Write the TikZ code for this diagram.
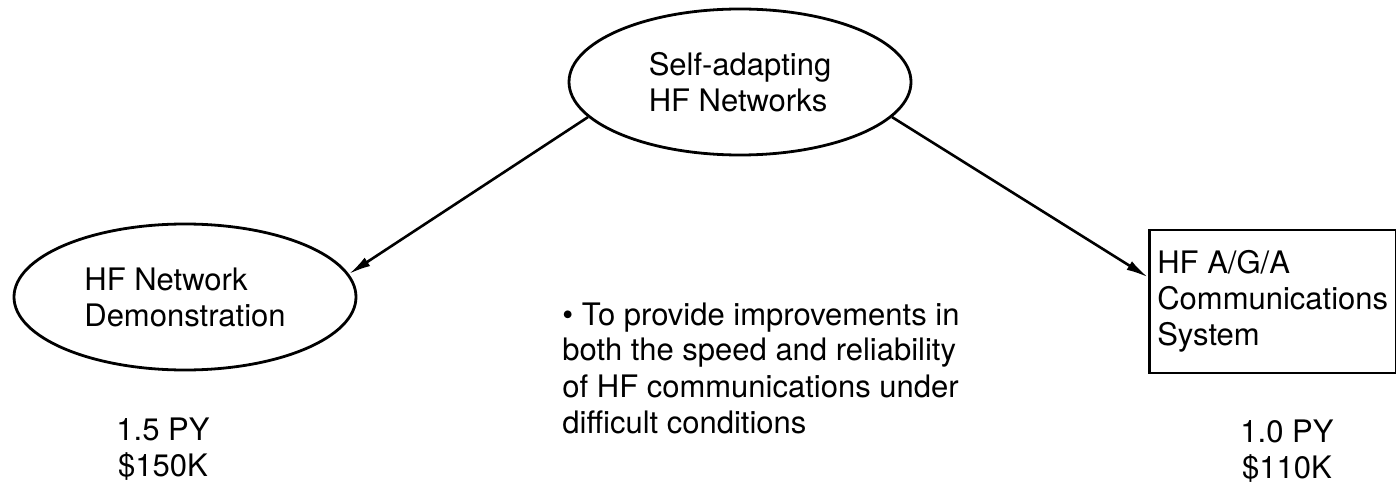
\documentclass[tikz,border=0pt]{standalone}
\usepackage{fontspec}
\setmainfont{TeX Gyre Heros}
\usetikzlibrary{shapes.geometric,arrows.meta}
\begin{document}
\begin{tikzpicture}[x=0.5pt,y=-0.5pt,
	every node/.style={font=\fontsize{15.5}{18}\selectfont},
	goal/.style={draw,ellipse,line width=1.4pt,minimum width=171pt,minimum height=73pt,align=left,inner sep=0pt},
	sysbox/.style={draw,rectangle,line width=1.3pt,minimum width=123pt,minimum height=71.5pt,align=left,inner xsep=4pt},
	cost/.style={align=center,inner sep=0pt,anchor=north},
	link/.style={line width=1.3pt,-{Latex[length=11pt,width=5pt]}}]
	\useasboundingbox (0,0) rectangle (1396,486);
	\node[goal] (selfadapt) at (740,82) {Self-adapting\\HF Networks};
	\node[goal] (netdemo) at (185,297) {HF Network\\Demonstration};
	\node[sysbox,anchor=west] (agabox) at (1148,301.5) {HF A/G/A\\Communications\\System};
	\draw[link] (selfadapt.193) -- (netdemo.8);
	\draw[link] (selfadapt.-13) -- (agabox.169);
	\node[align=left,inner sep=0pt,anchor=north west] (aim) at (562,302)
		{\textbullet\ To provide improvements in\\both the speed and reliability\\of HF communications under\\difficult conditions};
	\node[cost] (demcost) at (163,417) {1.5 PY\\\$150K};
	\node[cost] (agacost) at (1287,419) {1.0 PY\\\$110K};
\end{tikzpicture}
\end{document}
